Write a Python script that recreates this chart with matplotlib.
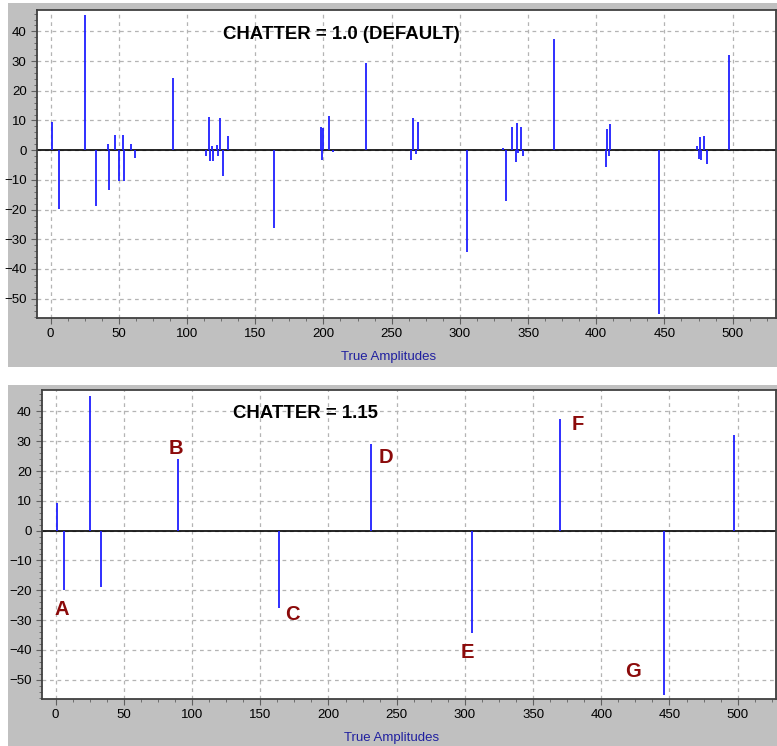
import numpy as np
import matplotlib.pyplot as plt
from matplotlib.patches import Rectangle
from matplotlib.ticker import MultipleLocator

plt.rcParams['font.family'] = ['Liberation Sans', 'DejaVu Sans']

# CHATTER = 1.0 (default): spike positions and amplitudes
x_default = [1, 6, 25, 33, 42, 43, 47, 50, 53, 54, 59, 62, 90,
             114, 116, 117, 118, 119, 122, 123, 124, 126, 130, 164,
             198, 199, 200, 204, 207, 231, 264, 266, 268, 269, 305,
             332, 334, 338, 341, 342, 343, 345, 346, 369,
             407, 408, 409, 410, 446, 474, 475, 476, 477, 479, 481, 497]
y_default = [9.4, -19.7, 45.4, -18.9, 2.1, -13.3, 5.1, -10.3, 5.1, -10.5, 2.1, -2.5, 24.2,
             -1.9, 11.1, -3.6, 1.4, -3.6, 1.8, -1.9, 10.7, -8.6, 4.8, -26.1,
             7.7, -3.3, 7.4, 11.5, -0.7, 29.2, -3.3, 10.7, -1.3, 9.4, -34.4,
             0.9, -17.0, 7.7, -4.0, 9.0, -0.8, 7.7, -1.9, 37.6,
             -5.7, 7.1, -1.8, 8.8, -55.0, 1.4, -2.9, 4.4, -3.2, 4.8, -4.6, 32.2]

# CHATTER = 1.15
x_chatter = [1, 6, 25, 33, 90, 164, 231, 305, 370, 446, 497]
y_chatter = [9.4, -19.9, 45.3, -19.0, 24.0, -26.1, 29.1, -34.5, 37.5, -55.2, 32.0]

# letter annotations on the lower chart
letters = ['A', 'B', 'C', 'D', 'E', 'F', 'G']
letter_x = [4.5, 88.5, 173.5, 242, 302, 383, 423]
letter_y = [-26.6, 27.7, -28, 24.7, -40.8, 35.5, -47.2]

W, H = 777, 746
fig = plt.figure(figsize=(W / 100, H / 100), dpi=100)

# gray panels behind each chart
gray = '#c0c0c0'
fig.patches.append(Rectangle((8 / W, 1 - 367 / H), 1 - 8 / W, 364 / H,
                             transform=fig.transFigure, facecolor=gray, edgecolor='none', zorder=-10))
fig.patches.append(Rectangle((8 / W, 0), 1 - 8 / W, 1 - 385 / H,
                             transform=fig.transFigure, facecolor=gray, edgecolor='none', zorder=-10))

ax1 = fig.add_axes([37 / W, 1 - 318 / H, (776 - 37) / W, 308 / H])
ax2 = fig.add_axes([42 / W, 1 - 699 / H, (776 - 42) / W, 309 / H])

for ax, xs, ys, xlim in [(ax1, x_default, y_default, (-10, 531.8)),
                         (ax2, x_chatter, y_chatter, (-10, 528.1))]:
    ax.set_facecolor('white')
    ax.vlines(xs, 0, ys, color='#1f1fff', lw=1.3, zorder=3)
    ax.axhline(0, color='black', lw=1.2, zorder=2)
    ax.set_xlim(*xlim)
    ax.set_ylim(-56.5, 47.2)
    ax.xaxis.set_major_locator(MultipleLocator(50))
    ax.xaxis.set_minor_locator(MultipleLocator(12.5))
    ax.yaxis.set_major_locator(MultipleLocator(10))
    ax.yaxis.set_minor_locator(MultipleLocator(2))
    ax.grid(True, which='major', color='#b4b4b4', linestyle=(0, (3, 3)), lw=0.9)
    ax.set_axisbelow(True)
    ax.tick_params(axis='both', which='major', labelsize=9.5, length=4, color='#606060')
    ax.tick_params(axis='both', which='minor', length=2, color='#606060')
    for s in ax.spines.values():
        s.set_color('#404040')
        s.set_linewidth(1.3)

ax1.text(213, 39, 'CHATTER = 1.0 (DEFAULT)', fontsize=13.4, fontweight='bold',
         ha='center', va='center')
ax2.text(183, 39.3, 'CHATTER = 1.15', fontsize=13.4, fontweight='bold',
         ha='center', va='center')

for lab, lx, ly in zip(letters, letter_x, letter_y):
    ax2.text(lx, ly, lab, fontsize=14.5, fontweight='bold', color='#8b0a0a',
             ha='center', va='center')

fig.text(389 / W, 1 - 357 / H, 'True Amplitudes', color='#2020a0', fontsize=9.5,
         ha='center', va='center')
fig.text(392 / W, 1 - 738 / H, 'True Amplitudes', color='#2020a0', fontsize=9.5,
         ha='center', va='center')

fig.savefig('out.png', dpi=100)
